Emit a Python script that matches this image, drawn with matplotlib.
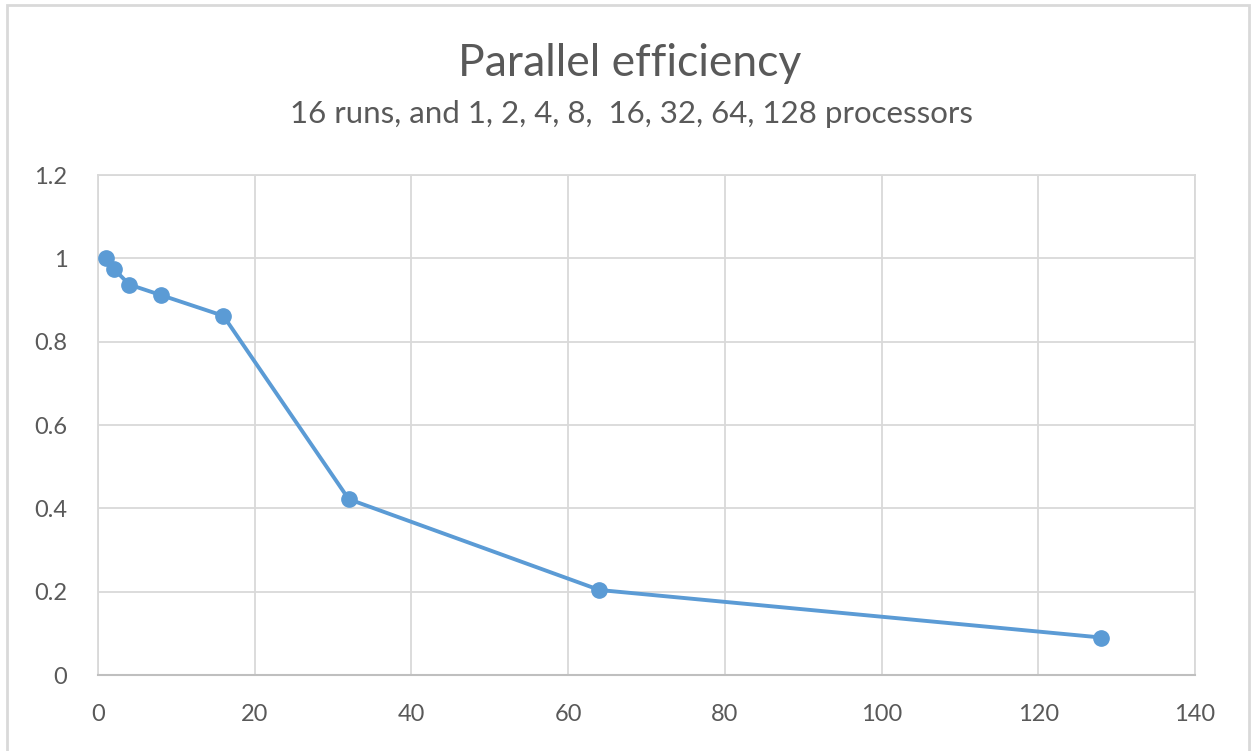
import matplotlib
matplotlib.use("Agg")
import matplotlib.pyplot as plt
from matplotlib.patches import Rectangle

processors = [1, 2, 4, 8, 16, 32, 64, 128]
efficiency = [1.0, 0.975, 0.937, 0.912, 0.862, 0.422, 0.204, 0.090]
x_ticks = [0, 20, 40, 60, 80, 100, 120, 140]
y_ticks = [0, 0.2, 0.4, 0.6, 0.8, 1.0, 1.2]
y_tick_labels = ["0", "0.2", "0.4", "0.6", "0.8", "1", "1.2"]
title = "Parallel efficiency"
subtitle = "16 runs, and 1, 2, 4, 8,  16, 32, 64, 128 processors"

plt.rcParams['font.family'] = ['Lato', 'DejaVu Sans']
text_col = "#595959"
grid_col = "#d9d9d9"
blue = "#5b9bd5"

fig = plt.figure(figsize=(12.57, 7.51), dpi=100)
fig.patches.append(Rectangle((7/1257, -0.02), 1249/1257 - 7/1257, 1.02 - 5/751,
                             transform=fig.transFigure, fill=False,
                             edgecolor="#d9d9d9", linewidth=2))
ax = fig.add_axes([98/1257, 1 - 675/751, (1195 - 98)/1257, (675 - 175)/751])
ax.plot(processors, efficiency, color=blue, linewidth=2.8, marker='o',
        markersize=11, markerfacecolor=blue, markeredgecolor=blue, zorder=3)
ax.set_xlim(0, 140)
ax.set_ylim(0, 1.2)
ax.set_xticks(x_ticks)
ax.set_yticks(y_ticks)
ax.set_yticklabels(y_tick_labels)
ax.grid(True, color=grid_col, linewidth=1.3)
ax.set_axisbelow(True)
for s in ['top', 'right', 'left']:
    ax.spines[s].set_color(grid_col)
    ax.spines[s].set_linewidth(1.3)
ax.spines['bottom'].set_color("#bfbfbf")
ax.spines['bottom'].set_linewidth(1.5)
ax.tick_params(length=0, labelsize=17, labelcolor=text_col)
ax.tick_params(axis='x', pad=21)
ax.tick_params(axis='y', pad=22)

fig.text(630/1257, 1 - 64/751, title, ha='center', va='center',
         fontsize=32, color=text_col)
fig.text(631/1257, 1 - 114/751, subtitle, ha='center', va='center',
         fontsize=22.5, color=text_col)

fig.savefig("out.png", dpi=100)
